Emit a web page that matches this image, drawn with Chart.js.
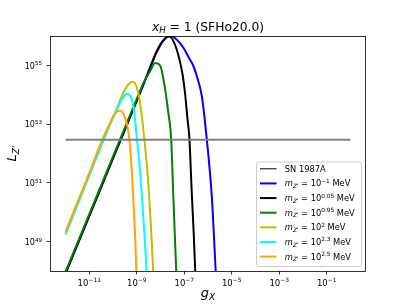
<!DOCTYPE html>
<html>
<head>
<meta charset="utf-8">
<script src="https://cdn.jsdelivr.net/npm/chart.js@4.4.0/dist/chart.umd.min.js"></script>
<style>
  html, body { margin: 0; padding: 0; background: #fff; }
</style>
</head>
<body>
<canvas id="chart" width="407" height="305"></canvas>
<script>
// All values are log10: x = log10(g_X), y = log10(L_Z')
const snLabel = "SN 1987A";
const snLogG = [-12, 0];
const snLogL = [52.47, 52.47];

const massExps = ["\u22121", "0.05", "0.95", "2", "2.3", "2.5"];
const seriesColors = ["#0000ff", "#000000", "#008000", "#bfbf00", "#00ffff", "#ffa500"];

const blueLogG = [-12, -11, -10, -9, -8.57, -8.16, -7.9, -7.6, -7.31, -7.03, -6.8, -6.61, -6.47, -6.26, -6.05, -5.84, -5.68, -5.64];
const blueLogL = [47.92, 49.88, 51.84, 53.8, 54.65, 55.45, 55.82, 56.02, 55.87, 55.59, 55.25, 54.97, 54.63, 53.95, 52.47, 50.54, 48.05, 47.4];

const blackLogG = [-12, -11, -10, -9, -8.57, -8.16, -7.88, -7.62, -7.41, -7.22, -7.07, -6.96, -6.87, -6.78, -6.69, -6.6, -6.54, -6.5];
const blackLogL = [47.92, 49.88, 51.84, 53.8, 54.65, 55.48, 55.86, 55.98, 55.74, 55.26, 54.68, 54.0, 53.22, 52.47, 50.77, 49.24, 48.05, 47.4];

const greenLogG = [-12, -11, -10, -9, -8.7, -8.44, -8.23, -8.02, -7.88, -7.67, -7.55, -7.46, -7.34, -7.3];
const greenLogL = [47.98, 49.94, 51.9, 53.86, 54.43, 54.8, 55.08, 55.0, 54.55, 53.38, 52.47, 50.54, 48.05, 47.4];

const yellowLogG = [-12, -11, -10.5, -10.2, -9.9, -9.63, -9.4, -9.16, -8.92, -8.78, -8.68, -8.54, -8.45, -8.37, -8.31, -8.28];
const yellowLogL = [49.25, 51.26, 52.27, 52.85, 53.42, 53.95, 54.3, 54.44, 54.0, 53.21, 52.47, 51.28, 50.15, 49.01, 47.99, 47.4];

const cyanLogG = [-12, -11, -10.5, -10.2, -9.9, -9.63, -9.41, -9.13, -8.99, -8.85, -8.75, -8.66, -8.59, -8.56];
const cyanLogL = [49.25, 51.26, 52.27, 52.85, 53.4, 53.83, 54.03, 53.55, 52.47, 51.28, 50.15, 49.01, 47.99, 47.4];

const orangeLogG = [-12, -11, -10.48, -10.13, -9.92, -9.7, -9.41, -9.31, -9.2, -9.13, -9.06, -9.02, -8.99];
const orangeLogL = [49.34, 51.34, 52.42, 53.04, 53.36, 53.46, 52.98, 52.47, 51.28, 50.15, 49.01, 47.99, 47.4];

const xTickExps = [-11, -9, -7, -5, -3, -1];
const yTickExps = [49, 51, 53, 55];

const series = [
  [blueLogG, blueLogL],
  [blackLogG, blackLogL],
  [greenLogG, greenLogL],
  [yellowLogG, yellowLogL],
  [cyanLogG, cyanLogL],
  [orangeLogG, orangeLogL]
];

function toPoints(lg, ll) {
  return lg.map((g, i) => ({ x: Math.pow(10, g), y: Math.pow(10, ll[i]) }));
}

function expOf(v) {
  return String(Math.round(Math.log10(v))).replace("-", "\u2212");
}

const FONT = '"DejaVu Sans", sans-serif';

// draws text made of pieces (italic / subscript / superscript)
function drawRich(ctx, parts, x, y, size, align) {
  const fontFor = p => (p.it ? "italic " : "") + ((p.sub || p.sup) ? size * 0.7 : size) + "px " + FONT;
  let w = 0;
  parts.forEach(p => { ctx.font = fontFor(p); p.w = ctx.measureText(p.t).width; w += p.w; });
  let cx = x;
  if (align === "center") cx = x - w / 2;
  if (align === "right") cx = x - w;
  ctx.textAlign = "left";
  ctx.textBaseline = "alphabetic";
  parts.forEach(p => {
    ctx.font = fontFor(p);
    const dy = p.sub ? size * 0.2 : (p.sup ? -size * 0.42 : 0);
    ctx.fillText(p.t, cx, y + dy);
    cx += p.w;
  });
}

const datasets = [{
  label: snLabel,
  data: toPoints(snLogG, snLogL),
  borderColor: "#808080",
  borderWidth: 2,
  order: 0
}];
series.forEach(function(s, i) {
  datasets.push({
    label: "m_Z' = 10^" + massExps[i] + " MeV",
    data: toPoints(s[0], s[1]),
    borderColor: seriesColors[i],
    borderWidth: 2,
    cubicInterpolationMode: "monotone",
    order: series.length - i
  });
});

const decorPlugin = {
  id: "decor",
  afterDatasetsDraw(chart) {
    const ctx = chart.ctx, a = chart.chartArea;
    ctx.save();
    ctx.strokeStyle = "#000";
    ctx.lineWidth = 0.8;
    ctx.strokeRect(a.left + 0.5, a.top + 0.5, a.right - a.left - 1, a.bottom - a.top);
    ctx.restore();
  },
  afterDraw(chart) {
    const ctx = chart.ctx, a = chart.chartArea;
    ctx.save();
    ctx.fillStyle = "#000";
    const cx = (a.left + a.right) / 2;

    // tick labels, placed by the scales
    const xs = chart.scales.x, ys = chart.scales.y;
    xs.ticks.forEach(t => {
      drawRich(ctx, [{ t: "10" }, { t: expOf(t.value), sup: true }], xs.getPixelForValue(t.value), a.bottom + 14.5, 8.5, "center");
    });
    ys.ticks.forEach(t => {
      drawRich(ctx, [{ t: "10" }, { t: expOf(t.value), sup: true }], a.left - 8, ys.getPixelForValue(t.value) + 3.3, 8, "right");
    });

    // title
    drawRich(ctx, [{ t: "x", it: true }, { t: "H", it: true, sub: true }, { t: " = 1 (SFHo20.0)" }], cx, 31, 12.3, "center");
    // x axis title
    drawRich(ctx, [{ t: "g", it: true }, { t: "X", it: true, sub: true }], cx, 297, 13, "center");
    // y axis title
    ctx.save();
    ctx.translate(16, (a.top + a.bottom) / 2);
    ctx.rotate(-Math.PI / 2);
    drawRich(ctx, [{ t: "L", it: true }, { t: "Z'", it: true, sub: true }], 0, 0, 13, "center");
    ctx.restore();

    // legend
    const bw = 105, bh = 104.5;
    const bx = a.right - 4.5 - bw, by = a.bottom - 4.5 - bh;
    ctx.beginPath();
    ctx.roundRect(bx, by, bw, bh, 2.5);
    ctx.fillStyle = "rgba(255,255,255,0.8)";
    ctx.fill();
    ctx.strokeStyle = "#cccccc";
    ctx.lineWidth = 1;
    ctx.stroke();
    const rowH = 14.63;
    const entries = [{ color: "#000", width: 1, parts: [{ t: snLabel }] }];
    massExps.forEach((e, i) => entries.push({
      color: seriesColors[i], width: 2,
      parts: [{ t: "m", it: true }, { t: "Z'", it: true, sub: true }, { t: " = 10" }, { t: e, sup: true }, { t: " MeV" }]
    }));
    entries.forEach((en, i) => {
      const y = by + 6.8 + i * rowH;
      ctx.beginPath();
      ctx.moveTo(bx + 3.5, y);
      ctx.lineTo(bx + 20, y);
      ctx.strokeStyle = en.color;
      ctx.lineWidth = en.width;
      ctx.stroke();
      ctx.fillStyle = "#000";
      drawRich(ctx, en.parts, bx + 28.3, y + 3, 8.3, "left");
    });
    ctx.restore();
  }
};

new Chart(document.getElementById("chart").getContext("2d"), {
  type: "line",
  data: { datasets: datasets },
  plugins: [decorPlugin],
  options: {
    responsive: false,
    animation: false,
    devicePixelRatio: 1,
    layout: { padding: { left: 0, top: 36, right: 41, bottom: 0 } },
    elements: { point: { radius: 0 }, line: { tension: 0 } },
    datasets: { line: { clip: 0 } },
    plugins: { legend: { display: false }, tooltip: { enabled: false } },
    scales: {
      x: {
        type: "logarithmic",
        bounds: "data",
        min: Math.pow(10, -12.655),
        max: Math.pow(10, 0.655),
        afterBuildTicks: s => { s.ticks = xTickExps.map(e => ({ value: Math.pow(10, e) })); },
        afterFit: s => { s.height = 34; },
        ticks: { display: false, autoSkip: false },
        grid: { drawOnChartArea: false, tickLength: 3.5, color: "#000", lineWidth: 0.8 },
        border: { display: false }
      },
      y: {
        type: "logarithmic",
        bounds: "data",
        min: 1e48,
        max: 1e56,
        afterBuildTicks: s => { s.ticks = yTickExps.map(e => ({ value: Math.pow(10, e) })); },
        afterFit: s => { s.width = 50; },
        ticks: { display: false, autoSkip: false },
        grid: { drawOnChartArea: false, tickLength: 3.5, color: "#000", lineWidth: 0.8 },
        border: { display: false }
      }
    }
  }
});
</script>
</body>
</html>
